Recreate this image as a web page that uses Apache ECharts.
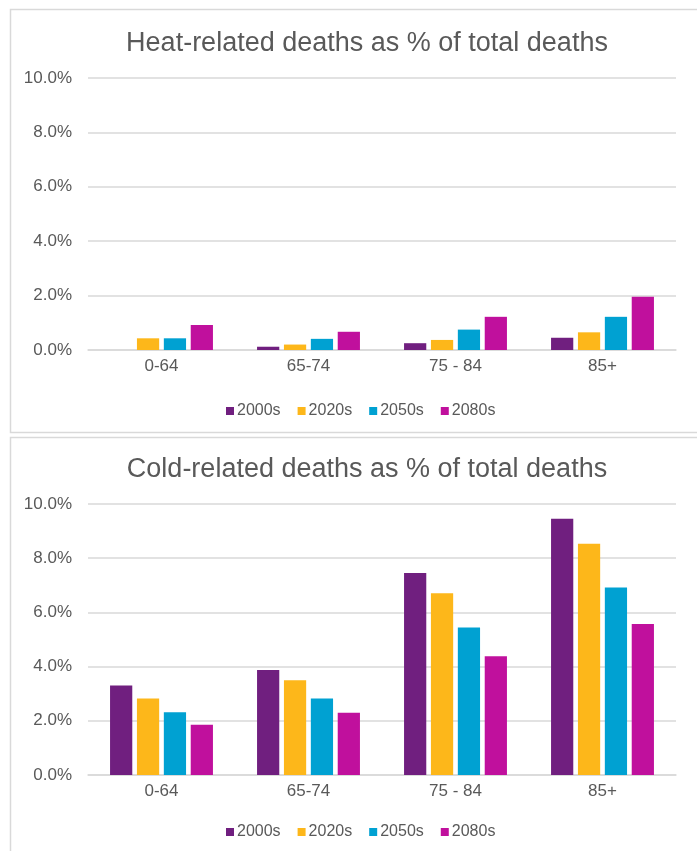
<!DOCTYPE html>
<html>
<head>
<meta charset="utf-8">
<script src="https://cdn.jsdelivr.net/npm/echarts@6/dist/echarts.min.js"></script>
<style>
  html, body { margin: 0; padding: 0; background: #fff; }
  #chart { width: 697px; height: 851px; }
</style>
</head>
<body>
<div id="chart"></div>
<script>
// Age bands and projection decades
const ageGroups = ['0-64', '65-74', '75 - 84', '85+'];
const decades = ['2000s', '2020s', '2050s', '2080s'];
const decadeColors = ['#701F7F', '#FDB71A', '#00A1D2', '#C0109D'];
const yTicks = [0, 2, 4, 6, 8, 10];

// Heat-related deaths, % of total deaths, per decade (rows) and age band (columns)
const heat2000s = [0.00, 0.12, 0.25, 0.45];
const heat2020s = [0.43, 0.20, 0.37, 0.65];
const heat2050s = [0.43, 0.41, 0.75, 1.22];
const heat2080s = [0.92, 0.67, 1.22, 1.96];

// Cold-related deaths, % of total deaths
const cold2000s = [3.30, 3.87, 7.45, 9.46];
const cold2020s = [2.82, 3.50, 6.71, 8.53];
const cold2050s = [2.32, 2.82, 5.44, 6.92];
const cold2080s = [1.85, 2.30, 4.38, 5.57];

const heatSeries = [heat2000s, heat2020s, heat2050s, heat2080s];
const coldSeries = [cold2000s, cold2020s, cold2050s, cold2080s];

const FONT = '"Liberation Sans", Arial, sans-serif';
const TEXT = '#595959';
const GRID_LINE = '#D9D9D9';

const panels = [
  { title: 'Heat-related deaths as % of total deaths', data: heatSeries, titleTop: 25, gridTop: 78, gridBottom: 350, legendTop: 398 },
  { title: 'Cold-related deaths as % of total deaths', data: coldSeries, titleTop: 451, gridTop: 504, gridBottom: 775, legendTop: 819 }
];

const chart = echarts.init(document.getElementById('chart'), null, { renderer: 'canvas' });

const option = {
  animation: false,
  backgroundColor: '#fff',
  textStyle: { fontFamily: FONT },
  graphic: [
    { type: 'rect', shape: { x: 10.5, y: 9.5, width: 700, height: 423 }, style: { fill: 'none', stroke: GRID_LINE, lineWidth: 1.5 }, silent: true },
    { type: 'rect', shape: { x: 10.5, y: 437.5, width: 700, height: 430 }, style: { fill: 'none', stroke: GRID_LINE, lineWidth: 1.5 }, silent: true }
  ],
  title: panels.map(p => ({
    text: p.title,
    left: 362,
    top: p.titleTop,
    textAlign: 'center',
    textStyle: { fontFamily: FONT, fontSize: 27, fontWeight: 'normal', color: TEXT }
  })),
  legend: panels.map(p => ({
    data: decades,
    top: p.legendTop,
    left: 221,
    icon: 'rect',
    itemWidth: 8,
    itemHeight: 8,
    itemGap: 17,
    selectedMode: false,
    textStyle: { fontFamily: FONT, fontSize: 16, color: TEXT, padding: [0, 0, 0, -2] }
  })),
  grid: panels.map(p => ({
    left: 88,
    right: 21,
    top: p.gridTop,
    height: p.gridBottom - p.gridTop
  })),
  xAxis: panels.map((p, i) => ({
    type: 'category',
    gridIndex: i,
    data: ageGroups,
    axisTick: { show: false },
    axisLine: { show: true, lineStyle: { color: GRID_LINE, width: 1.5 } },
    axisLabel: { color: TEXT, fontSize: 17, fontFamily: FONT, margin: 8 }
  })),
  yAxis: panels.map((p, i) => ({
    type: 'value',
    gridIndex: i,
    min: yTicks[0],
    max: yTicks[yTicks.length - 1],
    interval: yTicks[1] - yTicks[0],
    axisLine: { show: false },
    axisTick: { show: false },
    splitLine: { lineStyle: { color: GRID_LINE, width: 1.5 } },
    axisLabel: {
      color: TEXT, fontSize: 17, fontFamily: FONT, margin: 16,
      formatter: v => v.toFixed(1) + '%'
    }
  })),
  series: []
};

panels.forEach((p, gi) => {
  p.data.forEach((vals, si) => {
    option.series.push({
      type: 'bar',
      name: decades[si],
      xAxisIndex: gi,
      yAxisIndex: gi,
      data: vals,
      barGap: '21%',
      barCategoryGap: '30%',
      itemStyle: { color: decadeColors[si] }
    });
  });
});

chart.setOption(option);
</script>
</body>
</html>
